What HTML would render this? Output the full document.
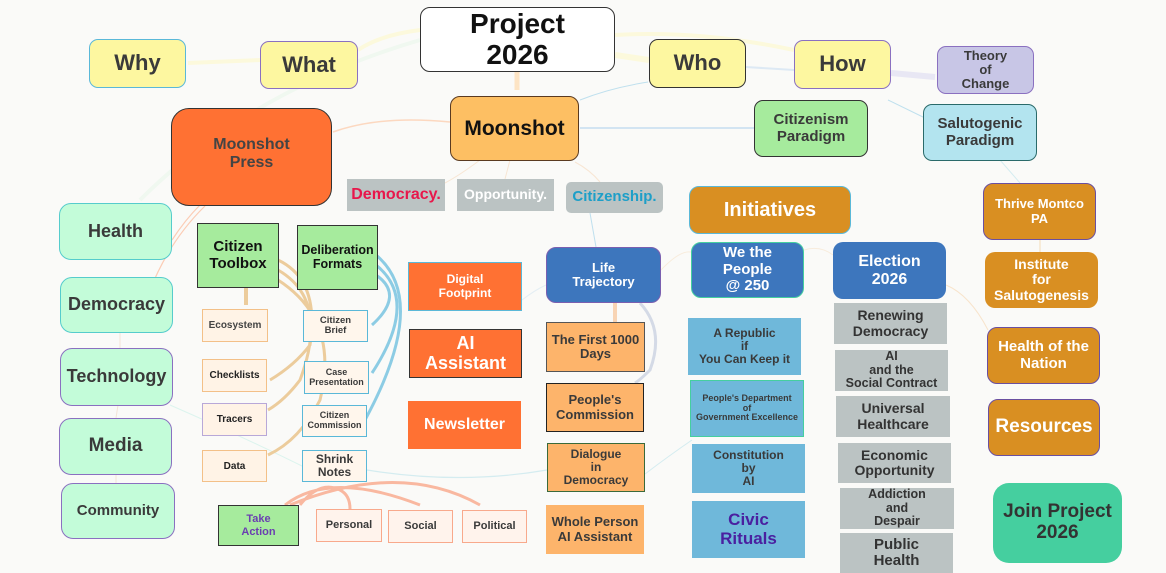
<!DOCTYPE html>
<html><head><meta charset="utf-8"><style>
*{margin:0;padding:0;box-sizing:border-box}
body{width:1166px;height:572px;background:#fafaf8;position:relative;overflow:hidden;font-family:"Liberation Sans",sans-serif;font-weight:bold}
.n{position:absolute;display:flex;align-items:center;justify-content:center;text-align:center;line-height:1.1;color:#3a3a3a}
.y{background:#fdf7a0;border:1.5px solid #333;border-radius:9px;font-size:22px}
.g{background:#c3fcd9;border:1.5px solid #5cc;border-radius:12px;font-size:18px}
.tan{background:#fff3e6;border:1.5px solid #f3c088;font-size:10px;color:#222}
.bl{background:#fff6ec;border:1.5px solid #5ab8d8;font-size:9.5px}
.sal{background:#fff3ec;border:1.5px solid #f8a98c;font-size:11px}
.or{background:#fdb46b;border:1.5px solid #555;font-size:13px}
.sky{background:#6fb8da;font-size:12px}
.gr{background:#bbc3c3;font-size:14px;color:#333}
.amb{background:#d98f22;border:1.5px solid #6a4fa0;border-radius:10px;color:#fff;font-size:15px}
.blue{background:#3d76bd;border:1.5px solid #7a5fb0;border-radius:10px;color:#fff;font-size:15px}
.org{background:#ff7133;color:#fff;border:1.5px solid #5ab8d8}
</style></head><body>
<svg width="1166" height="572" style="position:absolute;left:0;top:0" fill="none">
<path d="M420 30 Q380 35 358 50" stroke="#fcf9dc" stroke-width="4"/>
<path d="M261 60 L188 63" stroke="#fcf9dc" stroke-width="4"/>
<path d="M615 35 Q700 30 794 50" stroke="#fcf9dc" stroke-width="4"/>
<path d="M615 55 L649 60" stroke="#fcf9dc" stroke-width="6"/>
<path d="M746 67 L794 70" stroke="#dde9f4" stroke-width="2"/>
<path d="M891 73 L935 77" stroke="#e8e7f4" stroke-width="6"/>
<path d="M888 100 L925 118" stroke="#bfe0ee" stroke-width="1"/>
<path d="M648 82 Q610 88 580 100" stroke="#bfe0ee" stroke-width="1"/>
<path d="M754 128 L580 128" stroke="#c4dcf0" stroke-width="1.5"/>
<path d="M517 72 L517 90" stroke="#fde4c4" stroke-width="5"/>
<path d="M450 122 Q380 115 333 132" stroke="#fcd8c0" stroke-width="1.5"/>
<path d="M480 160 Q460 175 445 183" stroke="#f8e6d4" stroke-width="1"/>
<path d="M510 160 L505 179" stroke="#f8e6d4" stroke-width="1"/>
<path d="M575 162 Q590 170 600 182" stroke="#f8e6d4" stroke-width="1"/>
<path d="M590 213 L596 247" stroke="#bfe0ee" stroke-width="1"/>
<path d="M420 40 Q250 90 140 200" stroke="#f0f8f0" stroke-width="4"/>
<path d="M1000 160 L1020 183" stroke="#d4ecf0" stroke-width="1"/>
<path d="M1040 240 L1040 252" stroke="#f4dcb8" stroke-width="1"/>
<path d="M946 285 Q970 295 988 330" stroke="#f8e4cc" stroke-width="1"/>
<path d="M661 270 Q680 250 691 252 M804 250 Q820 245 833 255" stroke="#f8ecdc" stroke-width="1"/>
<path d="M172 240 Q185 220 200 205 M150 290 Q170 240 205 206" stroke="#fcccb4" stroke-width="1.2"/>
<path d="M120 333 L120 348 M118 405 L116 418 M116 475 L116 483" stroke="#f4e4d8" stroke-width="1"/>
<path d="M170 405 Q250 440 310 470" stroke="#dcf4ee" stroke-width="1"/>
<path d="M367 470 Q460 485 547 470" stroke="#d4ecf0" stroke-width="1.2"/>
<path d="M645 474 Q670 455 692 440" stroke="#d4ecf0" stroke-width="1"/>
<path d="M522 300 Q535 290 546 285" stroke="#e4eef4" stroke-width="1"/>
<path d="M246 288 L246 305" stroke="#eccc9c" stroke-width="4"/>
<path d="M278 260 Q320 280 310 345 Q295 365 270 380 M278 270 Q330 300 300 380 Q285 400 268 410 M278 280 Q340 320 320 400 Q300 440 268 455" stroke="#eccc9c" stroke-width="3"/>
<path d="M376 275 Q405 295 372 325 M376 265 Q420 300 372 373 M376 255 Q430 300 365 420" stroke="#8ccce4" stroke-width="3"/>
<path d="M300 505 Q320 480 340 490 Q350 495 350 509 M285 505 Q330 470 420 505 M290 505 Q400 460 480 505" stroke="#f9b8a0" stroke-width="3"/>
<path d="M615 303 L615 322" stroke="#f8d4b4" stroke-width="4"/>
<path d="M640 303 Q665 330 650 370 Q640 380 635 383" stroke="#d4dae6" stroke-width="3"/>
</svg>

<div class="n" style="left:420px;top:7px;width:195px;height:65px;background:#fff;border:1.5px solid #333;border-radius:10px;font-size:28px;color:#111">Project<br>2026</div>
<div class="n y" style="left:89px;top:39px;width:97px;height:49px;border-color:#5ab8d8">Why</div>
<div class="n y" style="left:260px;top:41px;width:98px;height:48px;border-color:#8a70c0">What</div>
<div class="n y" style="left:649px;top:39px;width:97px;height:49px">Who</div>
<div class="n y" style="left:794px;top:40px;width:97px;height:49px;border-color:#8a70c0">How</div>
<div class="n" style="left:937px;top:46px;width:97px;height:48px;background:#c8c6e6;border:1.5px solid #8a70c0;border-radius:9px;font-size:13px">Theory<br>of<br>Change</div>
<div class="n" style="left:450px;top:96px;width:129px;height:65px;background:#fdbf63;border:1.5px solid #5a3a20;border-radius:10px;font-size:21px;color:#111">Moonshot</div>
<div class="n" style="left:171px;top:108px;width:161px;height:98px;background:#ff7133;border:1.5px solid #333;border-radius:18px;font-size:16px;color:#444;padding-bottom:6px">Moonshot<br>Press</div>
<div class="n" style="left:754px;top:100px;width:114px;height:57px;background:#a6eb9d;border:1.5px solid #333;border-radius:9px;font-size:15px">Citizenism<br>Paradigm</div>
<div class="n" style="left:923px;top:104px;width:114px;height:57px;background:#b3e4ef;border:1.5px solid #2a6a6a;border-radius:9px;font-size:15px">Salutogenic<br>Paradigm</div>
<div class="n gr" style="left:347px;top:179px;width:98px;height:32px;font-size:16px;color:#e8174b">Democracy.</div>
<div class="n gr" style="left:457px;top:179px;width:97px;height:32px;color:#fff">Opportunity.</div>
<div class="n gr" style="left:566px;top:182px;width:97px;height:31px;color:#1d9fc8;border-radius:5px;font-size:15px">Citizenship.</div>
<div class="n amb" style="left:689px;top:186px;width:162px;height:48px;border-color:#5ab8d8;font-size:20px">Initiatives</div>
<div class="n amb" style="left:983px;top:183px;width:113px;height:57px;font-size:13px">Thrive Montco<br>PA</div>
<div class="n amb" style="left:985px;top:252px;width:113px;height:56px;border:none;font-size:14px">Institute<br>for<br>Salutogenesis</div>
<div class="n amb" style="left:987px;top:327px;width:113px;height:57px">Health of the<br>Nation</div>
<div class="n amb" style="left:988px;top:399px;width:112px;height:57px;font-size:19px">Resources</div>
<div class="n" style="left:993px;top:483px;width:129px;height:80px;background:#45cf9f;border-radius:16px;font-size:19px;color:#333">Join Project<br>2026</div>

<div class="n g" style="left:59px;top:203px;width:113px;height:57px">Health</div>
<div class="n g" style="left:60px;top:277px;width:113px;height:56px">Democracy</div>
<div class="n g" style="left:60px;top:348px;width:113px;height:58px;border-color:#8a70c0">Technology</div>
<div class="n g" style="left:59px;top:418px;width:113px;height:57px;border-color:#8a70c0;font-size:19px">Media</div>
<div class="n g" style="left:61px;top:483px;width:114px;height:56px;border-color:#8a70c0;font-size:15px">Community</div>

<div class="n" style="left:197px;top:223px;width:82px;height:65px;background:#a6eb9d;border:1.5px solid #333;font-size:15px;color:#111">Citizen<br>Toolbox</div>
<div class="n" style="left:297px;top:225px;width:81px;height:65px;background:#a6eb9d;border:1.5px solid #333;font-size:12.5px;color:#111">Deliberation<br>Formats</div>
<div class="n tan" style="left:202px;top:309px;width:66px;height:33px;color:#444">Ecosystem</div>
<div class="n tan" style="left:202px;top:359px;width:65px;height:33px">Checklists</div>
<div class="n tan" style="left:202px;top:403px;width:65px;height:33px;border-color:#b8a8d8">Tracers</div>
<div class="n tan" style="left:202px;top:450px;width:65px;height:32px">Data</div>
<div class="n bl" style="left:303px;top:310px;width:65px;height:32px">Citizen<br>Brief</div>
<div class="n bl" style="left:304px;top:361px;width:65px;height:33px;font-size:9px">Case<br>Presentation</div>
<div class="n bl" style="left:302px;top:405px;width:65px;height:32px;font-size:9px">Citizen<br>Commission</div>
<div class="n bl" style="left:302px;top:450px;width:65px;height:32px;font-size:12px">Shrink<br>Notes</div>
<div class="n" style="left:218px;top:505px;width:81px;height:41px;background:#a6eb9d;border:1.5px solid #333;font-size:11px;color:#6a3fb0">Take<br>Action</div>
<div class="n sal" style="left:316px;top:509px;width:66px;height:33px">Personal</div>
<div class="n sal" style="left:388px;top:510px;width:65px;height:33px">Social</div>
<div class="n sal" style="left:462px;top:510px;width:65px;height:33px">Political</div>

<div class="n org" style="left:408px;top:262px;width:114px;height:49px;font-size:12px">Digital<br>Footprint</div>
<div class="n org" style="left:409px;top:329px;width:113px;height:49px;border-color:#333;font-size:18px">AI<br>Assistant</div>
<div class="n org" style="left:408px;top:401px;width:113px;height:48px;border:none;font-size:16px">Newsletter</div>

<div class="n blue" style="left:546px;top:247px;width:115px;height:56px;font-size:13px">Life<br>Trajectory</div>
<div class="n blue" style="left:691px;top:242px;width:113px;height:56px;border-color:#45cf9f">We the<br>People<br>@ 250</div>
<div class="n blue" style="left:833px;top:242px;width:113px;height:57px;border:none;font-size:16px">Election<br>2026</div>

<div class="n or" style="left:546px;top:322px;width:99px;height:50px">The First 1000<br>Days</div>
<div class="n or" style="left:546px;top:383px;width:98px;height:49px;border-color:#222">People's<br>Commission</div>
<div class="n or" style="left:547px;top:443px;width:98px;height:49px;border-color:#3a6a3a;font-size:12px">Dialogue<br>in<br>Democracy</div>
<div class="n or" style="left:546px;top:505px;width:98px;height:49px;border:none">Whole Person<br>AI Assistant</div>

<div class="n sky" style="left:688px;top:318px;width:113px;height:57px">A Republic<br>if<br>You Can Keep it</div>
<div class="n sky" style="left:690px;top:380px;width:114px;height:57px;font-size:9px;border:1px solid #45cf9f">People's Department<br>of<br>Government Excellence</div>
<div class="n sky" style="left:692px;top:444px;width:113px;height:49px">Constitution<br>by<br>AI</div>
<div class="n sky" style="left:692px;top:501px;width:113px;height:57px;font-size:17px;color:#4a20a0">Civic<br>Rituals</div>

<div class="n gr" style="left:834px;top:303px;width:113px;height:41px">Renewing<br>Democracy</div>
<div class="n gr" style="left:835px;top:350px;width:113px;height:41px;font-size:12.5px">AI<br>and the<br>Social Contract</div>
<div class="n gr" style="left:836px;top:396px;width:114px;height:41px">Universal<br>Healthcare</div>
<div class="n gr" style="left:838px;top:443px;width:113px;height:40px">Economic<br>Opportunity</div>
<div class="n gr" style="left:840px;top:488px;width:114px;height:41px;font-size:12.5px">Addiction<br>and<br>Despair</div>
<div class="n gr" style="left:840px;top:533px;width:113px;height:40px;font-size:15px">Public<br>Health</div>
</body></html>
